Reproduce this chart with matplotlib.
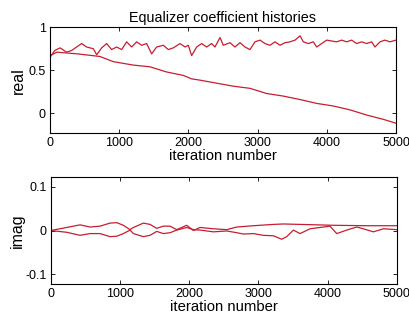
import numpy as np
import matplotlib
matplotlib.use("Agg")
import matplotlib.pyplot as plt

plt.rcParams['font.family'] = ['Liberation Sans', 'DejaVu Sans']

red = '#c41e32'

# oberer Plot: Realteil, obere (verrauschte) Kurve
re_a_it = [0, 70, 145, 240, 313, 385, 458, 530, 626, 675, 747, 819, 891, 963, 1036,
           1108, 1180, 1252, 1325, 1397, 1469, 1541, 1638, 1710, 1782, 1879, 1951,
           1999, 2047, 2119, 2192, 2264, 2336, 2384, 2457, 2505, 2601, 2673, 2746,
           2818, 2890, 2962, 3035, 3107, 3179, 3252, 3324, 3396, 3468, 3541, 3613,
           3661, 3733, 3805, 3854, 3926, 3998, 4070, 4143, 4215, 4287, 4359, 4432,
           4504, 4576, 4648, 4696, 4769, 4841, 4913, 5000]
re_a = [0.65, 0.73, 0.76, 0.71, 0.73, 0.77, 0.81, 0.77, 0.75, 0.68, 0.76, 0.81, 0.74,
        0.77, 0.74, 0.83, 0.77, 0.83, 0.79, 0.81, 0.69, 0.77, 0.79, 0.74, 0.76, 0.81,
        0.77, 0.79, 0.67, 0.77, 0.81, 0.77, 0.81, 0.77, 0.88, 0.79, 0.82, 0.77, 0.82,
        0.77, 0.74, 0.83, 0.85, 0.81, 0.79, 0.83, 0.79, 0.82, 0.83, 0.85, 0.90, 0.83,
        0.81, 0.83, 0.77, 0.81, 0.85, 0.84, 0.83, 0.85, 0.83, 0.85, 0.81, 0.83, 0.81,
        0.83, 0.77, 0.83, 0.85, 0.83, 0.85]

# oberer Plot: fallende Kurve
re_b_it = [0, 100, 400, 722, 915, 1204, 1445, 1686, 1927, 2047, 2168, 2408, 2649,
           2890, 3131, 3372, 3613, 3854, 4094, 4335, 4576, 4817, 5000]
re_b = [0.67, 0.71, 0.69, 0.66, 0.60, 0.56, 0.54, 0.48, 0.44, 0.40, 0.385, 0.35,
        0.315, 0.29, 0.23, 0.20, 0.16, 0.115, 0.085, 0.04, -0.02, -0.07, -0.115]

# unterer Plot: Imaginärteil
im_a_it = [0, 231, 424, 568, 713, 857, 954, 1050, 1146, 1195, 1339, 1435, 1532, 1628,
           1724, 1821, 1965, 2062, 2158, 2351, 2543, 2688, 2929, 3218, 3362, 3603,
           4085, 4567, 5000]
im_a = [0, 0.007, 0.013, 0.008, 0.010, 0.017, 0.018, 0.012, 0.002, 0.007, 0.017,
        0.014, 0.005, 0.010, 0.010, 0.002, 0.012, 0.0, 0.007, 0.004, 0.002, 0.008,
        0.011, 0.014, 0.015, 0.014, 0.012, 0.011, 0.011]

im_b_it = [0, 231, 424, 568, 713, 857, 954, 1050, 1146, 1195, 1339, 1435, 1532, 1628,
           1724, 1821, 1965, 2062, 2158, 2351, 2543, 2688, 2784, 2929, 3073, 3218,
           3338, 3410, 3507, 3603, 3748, 3892, 4036, 4133, 4277, 4422, 4518, 4663,
           4807, 5000]
im_b = [0, -0.004, -0.011, -0.007, -0.007, -0.014, -0.013, -0.007, 0.001, -0.007,
        -0.014, -0.011, -0.002, -0.007, -0.005, 0.001, 0.007, 0.002, 0.001, -0.003,
        -0.001, -0.005, -0.008, -0.007, -0.011, -0.012, -0.020, -0.014, 0.001, -0.007,
        0.004, 0.007, 0.010, -0.007, 0.001, 0.008, 0.004, -0.003, 0.004, 0.002]

fig = plt.figure(figsize=(4.09, 3.2), dpi=100)
ax1 = fig.add_axes([0.1222, 0.584, 0.846, 0.331])
ax2 = fig.add_axes([0.124, 0.1116, 0.846, 0.336])

ax1.plot(re_a_it, re_a, color=red, lw=0.9)
ax1.plot(re_b_it, re_b, color=red, lw=0.9)
ax1.set_ylim(-0.23, 1.0)
ax1.set_yticks([0, 0.5, 1])
ax1.set_yticklabels(['0', '0.5', '1'])
ax1.set_ylabel('real', fontsize=11.5, labelpad=2)
ax1.set_title('Equalizer coefficient histories', fontsize=10.4, pad=4)

ax2.plot(im_a_it, im_a, color=red, lw=0.9)
ax2.plot(im_b_it, im_b, color=red, lw=0.9)
ax2.set_ylim(-0.123, 0.123)
ax2.set_yticks([-0.1, 0, 0.1])
ax2.set_yticklabels(['-0.1', '0', '0.1'])
ax2.set_ylabel('imag', fontsize=11.5, labelpad=0)

for ax in (ax1, ax2):
    ax.set_xlim(0, 5000)
    ax.set_xticks([0, 1000, 2000, 3000, 4000, 5000])
    ax.set_xlabel('iteration number', fontsize=10.7, labelpad=0)
    ax.tick_params(direction='in', top=True, right=True, length=3, width=0.6,
                   labelsize=9, pad=3)
    for s in ax.spines.values():
        s.set_linewidth(0.8)

fig.savefig('out.png', dpi=100)
